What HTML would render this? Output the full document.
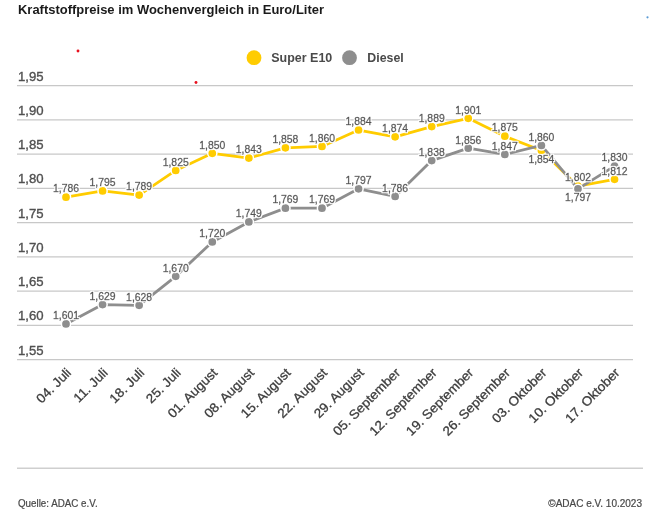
<!DOCTYPE html>
<html lang="de"><head><meta charset="utf-8"><title>Kraftstoffpreise im Wochenvergleich</title>
<style>
html,body{margin:0;padding:0;background:#fff;}
body{width:650px;height:532px;overflow:hidden;font-family:"Liberation Sans",sans-serif;}
svg{display:block}
text{font-family:"Liberation Sans",sans-serif;}
.title{font-weight:bold;font-size:12.7px;fill:#1a1a1a}
.yl{font-size:13px;fill:#505050;stroke:#505050;stroke-width:.35px}
.xl{font-size:13px;fill:#3c3c3c;stroke:#3c3c3c;stroke-width:.3px}
.dl{font-size:10px;fill:#525252;stroke:#525252;stroke-width:.4px;text-anchor:middle}
.lg{font-size:13px;font-weight:bold;fill:#4a4a4a}
.ft{font-size:10px;fill:#484848;stroke:#484848;stroke-width:.2px}
</style></head><body>
<svg width="650" height="532" viewBox="0 0 650 532">
<defs><filter id="halo" x="-5%" y="-5%" width="110%" height="110%"><feMorphology in="SourceAlpha" operator="dilate" radius="1" result="d"/><feFlood flood-color="#fff" result="f"/><feComposite in="f" in2="d" operator="in" result="h"/><feMerge><feMergeNode in="h"/><feMergeNode in="SourceGraphic"/></feMerge></filter></defs>
<rect width="650" height="532" fill="#fff"/>
<text class="title" x="18" y="13.8" textLength="306" lengthAdjust="spacingAndGlyphs">Kraftstoffpreise im Wochenvergleich in Euro/Liter</text>
<circle cx="78" cy="51" r="1.45" fill="#e8101e"/><circle cx="196" cy="82.5" r="1.45" fill="#e8101e"/><circle cx="647.5" cy="17.3" r="1.1" fill="#5b9bd5"/>
<circle cx="254" cy="57.7" r="7.4" fill="#ffcc00"/><text class="lg" x="271.3" y="61.9" textLength="61" lengthAdjust="spacingAndGlyphs">Super E10</text>
<circle cx="349.5" cy="57.7" r="7.4" fill="#8e8e8e"/><text class="lg" x="367.3" y="61.9" textLength="36.4" lengthAdjust="spacingAndGlyphs">Diesel</text>
<line x1="17" x2="633" y1="85.60" y2="85.60" stroke="#c8c8c8" stroke-width="1.1"/><text class="yl" x="18" y="80.60" textLength="25.6" lengthAdjust="spacingAndGlyphs">1,95</text>
<line x1="17" x2="633" y1="119.85" y2="119.85" stroke="#c8c8c8" stroke-width="1.1"/><text class="yl" x="18" y="114.85" textLength="25.6" lengthAdjust="spacingAndGlyphs">1,90</text>
<line x1="17" x2="633" y1="154.10" y2="154.10" stroke="#c8c8c8" stroke-width="1.1"/><text class="yl" x="18" y="149.10" textLength="25.6" lengthAdjust="spacingAndGlyphs">1,85</text>
<line x1="17" x2="633" y1="188.35" y2="188.35" stroke="#c8c8c8" stroke-width="1.1"/><text class="yl" x="18" y="183.35" textLength="25.6" lengthAdjust="spacingAndGlyphs">1,80</text>
<line x1="17" x2="633" y1="222.60" y2="222.60" stroke="#c8c8c8" stroke-width="1.1"/><text class="yl" x="18" y="217.60" textLength="25.6" lengthAdjust="spacingAndGlyphs">1,75</text>
<line x1="17" x2="633" y1="256.85" y2="256.85" stroke="#c8c8c8" stroke-width="1.1"/><text class="yl" x="18" y="251.85" textLength="25.6" lengthAdjust="spacingAndGlyphs">1,70</text>
<line x1="17" x2="633" y1="291.10" y2="291.10" stroke="#c8c8c8" stroke-width="1.1"/><text class="yl" x="18" y="286.10" textLength="25.6" lengthAdjust="spacingAndGlyphs">1,65</text>
<line x1="17" x2="633" y1="325.35" y2="325.35" stroke="#c8c8c8" stroke-width="1.1"/><text class="yl" x="18" y="320.35" textLength="25.6" lengthAdjust="spacingAndGlyphs">1,60</text>
<line x1="17" x2="633" y1="359.60" y2="359.60" stroke="#c8c8c8" stroke-width="1.1"/><text class="yl" x="18" y="354.60" textLength="25.6" lengthAdjust="spacingAndGlyphs">1,55</text>
<polyline points="66.00,197.14 102.57,190.97 139.14,195.09 175.71,170.42 212.28,153.30 248.85,158.09 285.42,147.82 321.99,146.45 358.56,130.01 395.13,136.86 431.70,126.58 468.27,118.36 504.84,136.17 541.41,150.56 577.98,186.18 614.55,179.33" fill="none" stroke="#ffcc00" stroke-width="2.8" stroke-linejoin="round" stroke-linecap="round"/>
<circle cx="66.00" cy="197.14" r="4.6" fill="#ffcc00" stroke="#fff" stroke-width="1.5"/><circle cx="102.57" cy="190.97" r="4.6" fill="#ffcc00" stroke="#fff" stroke-width="1.5"/><circle cx="139.14" cy="195.09" r="4.6" fill="#ffcc00" stroke="#fff" stroke-width="1.5"/><circle cx="175.71" cy="170.42" r="4.6" fill="#ffcc00" stroke="#fff" stroke-width="1.5"/><circle cx="212.28" cy="153.30" r="4.6" fill="#ffcc00" stroke="#fff" stroke-width="1.5"/><circle cx="248.85" cy="158.09" r="4.6" fill="#ffcc00" stroke="#fff" stroke-width="1.5"/><circle cx="285.42" cy="147.82" r="4.6" fill="#ffcc00" stroke="#fff" stroke-width="1.5"/><circle cx="321.99" cy="146.45" r="4.6" fill="#ffcc00" stroke="#fff" stroke-width="1.5"/><circle cx="358.56" cy="130.01" r="4.6" fill="#ffcc00" stroke="#fff" stroke-width="1.5"/><circle cx="395.13" cy="136.86" r="4.6" fill="#ffcc00" stroke="#fff" stroke-width="1.5"/><circle cx="431.70" cy="126.58" r="4.6" fill="#ffcc00" stroke="#fff" stroke-width="1.5"/><circle cx="468.27" cy="118.36" r="4.6" fill="#ffcc00" stroke="#fff" stroke-width="1.5"/><circle cx="504.84" cy="136.17" r="4.6" fill="#ffcc00" stroke="#fff" stroke-width="1.5"/><circle cx="541.41" cy="150.56" r="4.6" fill="#ffcc00" stroke="#fff" stroke-width="1.5"/><circle cx="577.98" cy="186.18" r="4.6" fill="#ffcc00" stroke="#fff" stroke-width="1.5"/><circle cx="614.55" cy="179.33" r="4.6" fill="#ffcc00" stroke="#fff" stroke-width="1.5"/>
<polyline points="66.00,323.90 102.57,304.61 139.14,305.30 175.71,276.36 212.28,241.91 248.85,221.93 285.42,208.15 321.99,208.15 358.56,188.86 395.13,196.43 431.70,160.61 468.27,148.20 504.84,154.41 541.41,145.45 577.98,188.86 614.55,166.12" fill="none" stroke="#8e8e8e" stroke-width="2.8" stroke-linejoin="round" stroke-linecap="round"/>
<circle cx="66.00" cy="323.90" r="4.6" fill="#8e8e8e" stroke="#fff" stroke-width="1.5"/><circle cx="102.57" cy="304.61" r="4.6" fill="#8e8e8e" stroke="#fff" stroke-width="1.5"/><circle cx="139.14" cy="305.30" r="4.6" fill="#8e8e8e" stroke="#fff" stroke-width="1.5"/><circle cx="175.71" cy="276.36" r="4.6" fill="#8e8e8e" stroke="#fff" stroke-width="1.5"/><circle cx="212.28" cy="241.91" r="4.6" fill="#8e8e8e" stroke="#fff" stroke-width="1.5"/><circle cx="248.85" cy="221.93" r="4.6" fill="#8e8e8e" stroke="#fff" stroke-width="1.5"/><circle cx="285.42" cy="208.15" r="4.6" fill="#8e8e8e" stroke="#fff" stroke-width="1.5"/><circle cx="321.99" cy="208.15" r="4.6" fill="#8e8e8e" stroke="#fff" stroke-width="1.5"/><circle cx="358.56" cy="188.86" r="4.6" fill="#8e8e8e" stroke="#fff" stroke-width="1.5"/><circle cx="395.13" cy="196.43" r="4.6" fill="#8e8e8e" stroke="#fff" stroke-width="1.5"/><circle cx="431.70" cy="160.61" r="4.6" fill="#8e8e8e" stroke="#fff" stroke-width="1.5"/><circle cx="468.27" cy="148.20" r="4.6" fill="#8e8e8e" stroke="#fff" stroke-width="1.5"/><circle cx="504.84" cy="154.41" r="4.6" fill="#8e8e8e" stroke="#fff" stroke-width="1.5"/><circle cx="541.41" cy="145.45" r="4.6" fill="#8e8e8e" stroke="#fff" stroke-width="1.5"/><circle cx="577.98" cy="188.86" r="4.6" fill="#8e8e8e" stroke="#fff" stroke-width="1.5"/><circle cx="614.55" cy="166.12" r="4.6" fill="#8e8e8e" stroke="#fff" stroke-width="1.5"/>
<g filter="url(#halo)"><text class="dl" x="66.00" y="192.44" textLength="26" lengthAdjust="spacingAndGlyphs">1,786</text><text class="dl" x="102.57" y="186.28" textLength="26" lengthAdjust="spacingAndGlyphs">1,795</text><text class="dl" x="139.14" y="190.39" textLength="26" lengthAdjust="spacingAndGlyphs">1,789</text><text class="dl" x="175.71" y="165.72" textLength="26" lengthAdjust="spacingAndGlyphs">1,825</text><text class="dl" x="212.28" y="148.60" textLength="26" lengthAdjust="spacingAndGlyphs">1,850</text><text class="dl" x="248.85" y="153.39" textLength="26" lengthAdjust="spacingAndGlyphs">1,843</text><text class="dl" x="285.42" y="143.12" textLength="26" lengthAdjust="spacingAndGlyphs">1,858</text><text class="dl" x="321.99" y="141.75" textLength="26" lengthAdjust="spacingAndGlyphs">1,860</text><text class="dl" x="358.56" y="125.31" textLength="26" lengthAdjust="spacingAndGlyphs">1,884</text><text class="dl" x="395.13" y="132.16" textLength="26" lengthAdjust="spacingAndGlyphs">1,874</text><text class="dl" x="431.70" y="121.88" textLength="26" lengthAdjust="spacingAndGlyphs">1,889</text><text class="dl" x="468.27" y="113.66" textLength="26" lengthAdjust="spacingAndGlyphs">1,901</text><text class="dl" x="504.84" y="131.47" textLength="26" lengthAdjust="spacingAndGlyphs">1,875</text><text class="dl" x="541.41" y="162.76" textLength="26" lengthAdjust="spacingAndGlyphs">1,854</text><text class="dl" x="577.98" y="181.48" textLength="26" lengthAdjust="spacingAndGlyphs">1,802</text><text class="dl" x="614.55" y="174.63" textLength="26" lengthAdjust="spacingAndGlyphs">1,812</text></g>
<g filter="url(#halo)"><text class="dl" x="66.00" y="319.20" textLength="26" lengthAdjust="spacingAndGlyphs">1,601</text><text class="dl" x="102.57" y="299.91" textLength="26" lengthAdjust="spacingAndGlyphs">1,629</text><text class="dl" x="139.14" y="300.60" textLength="26" lengthAdjust="spacingAndGlyphs">1,628</text><text class="dl" x="175.71" y="271.66" textLength="26" lengthAdjust="spacingAndGlyphs">1,670</text><text class="dl" x="212.28" y="237.21" textLength="26" lengthAdjust="spacingAndGlyphs">1,720</text><text class="dl" x="248.85" y="217.23" textLength="26" lengthAdjust="spacingAndGlyphs">1,749</text><text class="dl" x="285.42" y="203.45" textLength="26" lengthAdjust="spacingAndGlyphs">1,769</text><text class="dl" x="321.99" y="203.45" textLength="26" lengthAdjust="spacingAndGlyphs">1,769</text><text class="dl" x="358.56" y="184.16" textLength="26" lengthAdjust="spacingAndGlyphs">1,797</text><text class="dl" x="395.13" y="191.73" textLength="26" lengthAdjust="spacingAndGlyphs">1,786</text><text class="dl" x="431.70" y="155.91" textLength="26" lengthAdjust="spacingAndGlyphs">1,838</text><text class="dl" x="468.27" y="143.50" textLength="26" lengthAdjust="spacingAndGlyphs">1,856</text><text class="dl" x="504.84" y="149.71" textLength="26" lengthAdjust="spacingAndGlyphs">1,847</text><text class="dl" x="541.41" y="140.75" textLength="26" lengthAdjust="spacingAndGlyphs">1,860</text><text class="dl" x="577.98" y="201.06" textLength="26" lengthAdjust="spacingAndGlyphs">1,797</text><text class="dl" x="614.55" y="161.42" textLength="26" lengthAdjust="spacingAndGlyphs">1,830</text></g>
<text class="xl" text-anchor="end" transform="translate(72.00,373.5) rotate(-45) scale(1.045,1)">04. Juli</text>
<text class="xl" text-anchor="end" transform="translate(108.57,373.5) rotate(-45) scale(1.045,1)">11. Juli</text>
<text class="xl" text-anchor="end" transform="translate(145.14,373.5) rotate(-45) scale(1.045,1)">18. Juli</text>
<text class="xl" text-anchor="end" transform="translate(181.71,373.5) rotate(-45) scale(1.045,1)">25. Juli</text>
<text class="xl" text-anchor="end" transform="translate(218.28,373.5) rotate(-45) scale(1.045,1)">01. August</text>
<text class="xl" text-anchor="end" transform="translate(254.85,373.5) rotate(-45) scale(1.045,1)">08. August</text>
<text class="xl" text-anchor="end" transform="translate(291.42,373.5) rotate(-45) scale(1.045,1)">15. August</text>
<text class="xl" text-anchor="end" transform="translate(327.99,373.5) rotate(-45) scale(1.045,1)">22. August</text>
<text class="xl" text-anchor="end" transform="translate(364.56,373.5) rotate(-45) scale(1.045,1)">29. August</text>
<text class="xl" text-anchor="end" transform="translate(401.13,373.5) rotate(-45) scale(1.045,1)">05. September</text>
<text class="xl" text-anchor="end" transform="translate(437.70,373.5) rotate(-45) scale(1.045,1)">12. September</text>
<text class="xl" text-anchor="end" transform="translate(474.27,373.5) rotate(-45) scale(1.045,1)">19. September</text>
<text class="xl" text-anchor="end" transform="translate(510.84,373.5) rotate(-45) scale(1.045,1)">26. September</text>
<text class="xl" text-anchor="end" transform="translate(547.41,373.5) rotate(-45) scale(1.045,1)">03. Oktober</text>
<text class="xl" text-anchor="end" transform="translate(583.98,373.5) rotate(-45) scale(1.045,1)">10. Oktober</text>
<text class="xl" text-anchor="end" transform="translate(620.55,373.5) rotate(-45) scale(1.045,1)">17. Oktober</text>
<line x1="17" x2="643" y1="468.2" y2="468.2" stroke="#cfcfcf" stroke-width="1.6"/>
<text class="ft" x="18" y="506.5" textLength="79.6" lengthAdjust="spacingAndGlyphs">Quelle: ADAC e.V.</text>
<text class="ft" x="642" y="506.5" text-anchor="end">©ADAC e.V. 10.2023</text>
</svg></body></html>
